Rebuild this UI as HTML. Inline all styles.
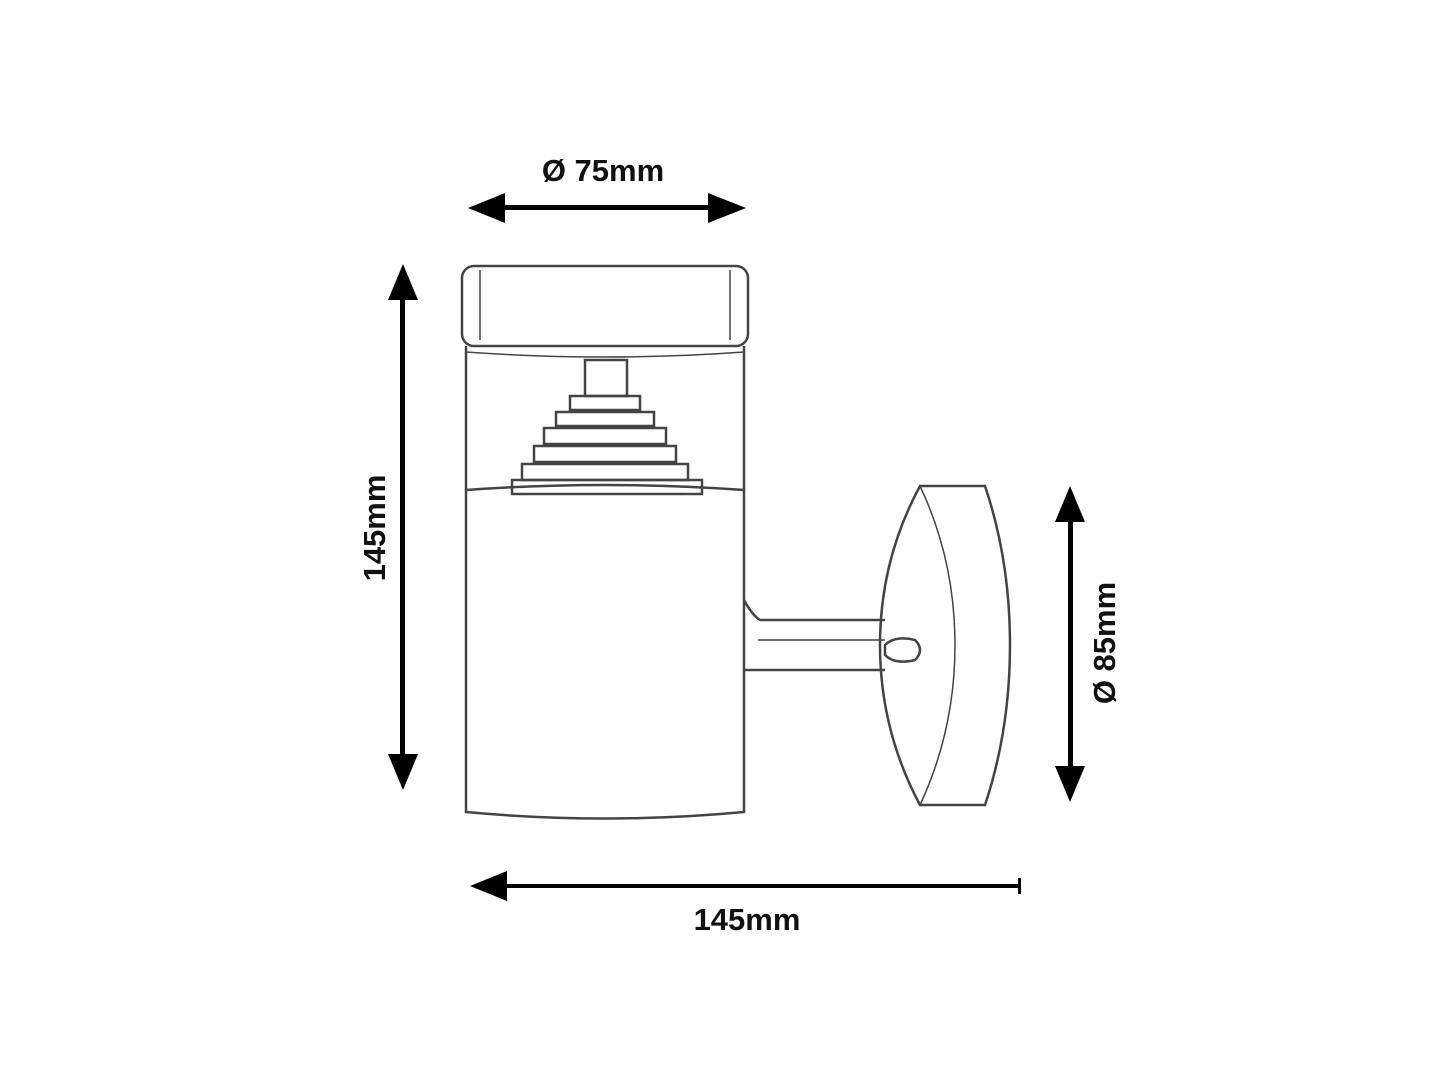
<!DOCTYPE html>
<html><head><meta charset="utf-8"><style>
html,body{margin:0;padding:0;background:#fff;}
svg{display:block}
text{font-family:"Liberation Sans",sans-serif;font-weight:bold;font-size:31px;fill:#111}
</style></head><body>
<svg width="1440" height="1080" viewBox="0 0 1440 1080" xmlns="http://www.w3.org/2000/svg">
<defs>
<marker id="ah" markerWidth="10" markerHeight="10" refX="0" refY="0" orient="auto" markerUnits="userSpaceOnUse" viewBox="-1 -14 42 28"></marker>
</defs>
<g fill="#000" stroke="none">
<!-- top dim -->
<rect x="500" y="205" width="212" height="5"/>
<polygon points="468,208 505,193 505,223"/>
<polygon points="746,208 708,193 708,223"/>
<!-- left dim -->
<rect x="400" y="296" width="5" height="460"/>
<polygon points="403,264 388,300 418,300"/>
<polygon points="403,790 388,754 418,754"/>
<!-- right dim -->
<rect x="1068" y="518" width="5" height="252"/>
<polygon points="1070,486 1055,522 1085,522"/>
<polygon points="1070,802 1055,766 1085,766"/>
<!-- bottom dim -->
<rect x="500" y="884" width="520" height="4"/>
<polygon points="470,886 507,871 507,901"/>
<rect x="1018" y="878" width="3" height="16"/>
</g>
<text x="603" y="181" text-anchor="middle">Ø 75mm</text>
<text x="747" y="930" text-anchor="middle">145mm</text>
<text transform="translate(385,528) rotate(-90)" text-anchor="middle">145mm</text>
<text transform="translate(1115,643) rotate(-90)" text-anchor="middle">Ø 85mm</text>
<g fill="none" stroke="#444" stroke-width="2.5">
<!-- cap -->
<rect x="462" y="266" width="286" height="80" rx="12"/>
<line x1="480" y1="270" x2="480" y2="340" stroke-width="1.5"/>
<line x1="730" y1="270" x2="730" y2="340" stroke-width="1.5"/>
<!-- glass -->
<line x1="466" y1="346" x2="466" y2="490"/>
<line x1="744" y1="346" x2="744" y2="490"/>
<path d="M466,352 Q605,362 744,352" stroke-width="1.5"/>
<!-- body -->
<path d="M466,490 Q605,480 744,490 L744,812 Q605,825 466,812 Z"/>
<!-- pyramid -->
<rect x="585" y="360" width="42" height="36"/>
<rect x="570" y="396" width="70" height="14"/>
<rect x="556" y="412" width="98" height="14"/>
<rect x="544" y="428" width="122" height="16"/>
<rect x="534" y="446" width="142" height="16"/>
<rect x="522" y="464" width="166" height="16"/>
<rect x="512" y="480" width="190" height="14"/>
<!-- arm -->
<path d="M744,600 Q752,615 760,620 L885,620"/>
<path d="M744,670 L885,670"/>
<line x1="758" y1="640" x2="885" y2="640" stroke-width="1.5"/>
<path d="M885,645 Q895,635 915,640 Q925,650 915,660 Q895,665 885,655 Z"/>
<!-- wall plate -->
<path d="M920,486 L985,486 Q1010,560 1010,645 Q1010,730 985,805 L920,805 Q880,730 880,645 Q880,560 920,486 Z"/>
<path d="M920,486 Q955,560 955,645 Q955,730 920,805" stroke-width="1.5"/>
</g>
</svg>
</body></html>
